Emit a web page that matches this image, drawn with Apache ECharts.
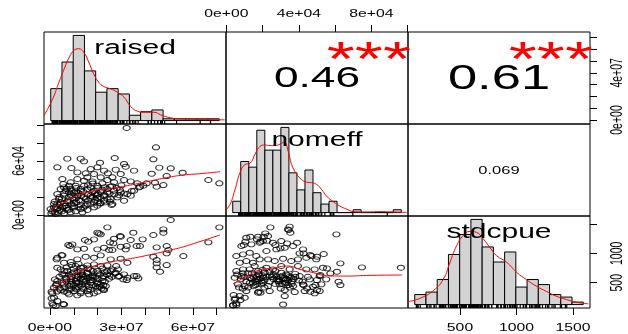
<!DOCTYPE html>
<html><head><meta charset="utf-8">
<script src="https://cdn.jsdelivr.net/npm/echarts@6/dist/echarts.min.js"></script>
<style>html,body{margin:0;padding:0;background:#fff}#c{width:628px;height:334px}</style>
</head><body><div id="c"></div>
<script>
// units: raised in millions, nomeff in thousands, stdcpue raw
const variables = ['raised', 'nomeff', 'stdcpue'];
const corrLabels = ['0.46', '0.61', '0.069'];   // (raised,nomeff) (raised,stdcpue) (nomeff,stdcpue)
const corrStars = ['***', '***', ''];

const raisedBreaks = [0,5,10,15,20,25,30,35,40,45,50,55,60,65,70,75];
const raisedCounts = [18,33,48,28,16,18,15,3,5,6,1,1,1,1,1];
const nomeffBreaks = [0,5,10,15,20,25,30,35,40,45,50,55,60,65,70,75,80,85,90,95,100,105];
const nomeffCounts = [4,18,16,29,22,22,30,14,8,15,7,3,4,0,0,1,0,0,0,0,1];
const stdcpueBreaks = [100,200,300,400,500,600,700,800,900,1000,1100,1200,1300,1400,1500,1600];
const stdcpueCounts = [4,5,10,20,28,34,23,17,21,7,10,8,4,3,1];

const raisedDensity = [[-3.0,2.8],[-1.1,7.2],[1.2,13.2],[3.4,20.7],[5.7,28.2],[7.9,34.8],[10.1,39.2],[12.4,40.5],[14.6,38.6],[16.9,33.0],[19.1,26.4],[21.3,21.7],[23.6,19.2],[26.6,17.9],[29.6,16.0],[32.6,13.2],[35.6,7.9],[38.6,5.3],[41.5,4.7],[46.0,4.7],[49.0,3.2],[53.5,1.5],[59.5,0.8],[68.4,0.6],[77.4,0.4]];
const nomeffDensity = [[-4.8,0.6],[-1.7,2.9],[1.4,8.1],[4.5,14.0],[7.6,16.9],[10.8,17.4],[13.9,20.6],[17.0,23.3],[20.1,23.8],[23.2,23.6],[26.3,23.6],[29.4,24.1],[31.9,24.8],[34.6,21.5],[36.7,16.9],[39.8,13.6],[43.0,11.6],[46.1,10.7],[49.2,10.5],[52.3,9.9],[55.4,8.1],[58.5,5.8],[62.7,3.8],[66.8,2.3],[71.0,1.2],[75.1,0.35],[83.5,0.23],[91.7,0.35],[100,0.23],[108.4,0.05]];
const stdcpueDensity = [[43,1.2],[147,2.5],[266,5.6],[355,10.2],[414,16.9],[473,23.5],[532,27.6],[592,29.2],[651,28.8],[710,26.2],[769,22.8],[829,19.5],[918,16.9],[1007,12.9],[1096,9.9],[1185,7.3],[1274,5.2],[1363,3.3],[1452,2.0],[1541,0.9],[1645,0.3]];

const raisedVsNomeff = [[32.2,96.7],[7.3,62.6],[12.9,62.6],[27.2,63.3],[3.1,53.0],[9.0,52.2],[14.3,59.6],[17.1,51.1],[22.7,49.3],[27.6,50.4],[31.1,56.7],[35.3,49.3],[31.8,53.7],[11.5,47.4],[15.0,46.3],[18.5,45.6],[21.3,41.9],[26.2,41.9],[29.7,45.6],[5.6,34.4],[8.7,36.3],[11.5,40.0],[14.3,38.1],[17.8,37.4],[22.0,35.2],[24.1,38.9],[26.9,36.3],[31.1,38.9],[33.9,37.4],[36.7,35.2],[5.9,30.7],[8.7,28.9],[10.8,32.6],[12.9,27.0],[15.7,28.9],[18.5,27.0],[21.3,25.2],[24.1,28.9],[26.9,27.0],[29.7,25.2],[32.5,23.3],[35.3,27.0],[37.4,30.7],[3.1,23.3],[5.9,21.5],[8.0,25.2],[11.5,21.5],[14.3,19.6],[17.1,21.5],[19.9,18.9],[22.7,21.5],[25.5,17.8],[28.3,19.6],[31.1,15.9],[33.9,21.5],[1.7,12.2],[4.5,14.1],[7.3,15.2],[10.1,13.0],[12.9,15.9],[15.7,12.2],[18.5,14.1],[21.3,13.0],[26.2,12.2],[22.7,15.9],[1.0,4.1],[3.1,6.7],[5.2,8.5],[7.3,5.6],[10.1,8.5],[12.9,6.7],[15.7,5.6],[5.9,1.9],[2.4,1.1],[8.7,3.0],[13.6,3.0],[18.5,8.5],[0.6,1.9],[4.5,28.9],[6.6,27.0],[10.1,25.2],[14.3,32.6],[17.1,30.7],[19.9,32.6],[9.4,18.9],[12.2,16.7],[3.8,17.8],[6.6,10.4],[10.8,4.1],[15.0,10.4],[19.9,10.4],[24.1,17.8],[17.8,25.2],[1.7,8.5],[0.3,6.7],[8.0,32.6],[5.2,40.0],[15.7,41.9],[24.3,46.3],[19.9,53.0],[44.5,75.2],[43.4,61.9],[45.9,52.6],[50.7,51.9],[55.7,47.0],[42.7,45.9],[49.0,43.3],[44.1,35.9],[47.6,33.3],[66.5,38.9],[71.1,35.2],[39.2,32.6],[21.0,58.1],[25.2,31.5],[29.4,27.8],[34.3,26.7],[37.8,31.5],[40.6,35.2],[44.8,31.5],[19.6,22.2],[25.2,14.8],[25.9,11.1],[21.0,13.0],[3,12],[5,18],[8,20],[10,17],[12,24],[14,26],[16,23],[18,20],[20,23],[22,28],[24,25],[6,10],[9,12],[11,14],[13,11],[16,16],[19,17],[4,5],[7,8],[2,3],[2.5,9],[4,11],[6,13],[8,15],[9,22],[11,19],[13,21],[15,18],[17,19],[19,24],[21,20],[23,22],[25,24],[27,23],[29,22],[31,24],[4,20],[6,24],[7,29],[9,27],[11,30],[13,29],[16,33],[18,35],[20,30],[23,31],[26,32],[28,30],[30,33],[2,15],[3.5,2.5],[5,4],[8,6],[10,10],[12,9],[14,8],[17,12],[20,15],[23,14],[11,26]];
const raisedNomeffSmooth = [[0.3,4.1],[3,10],[5.9,14],[11.5,21.5],[18.5,27],[25.5,29.5],[32.5,32.6],[39.5,36.3],[49,41.5],[56,44.4],[63,45.9],[71.4,48.1]];

const raisedVsStdcpue = [[50.7,1566],[24.1,1441],[47.6,1407],[47.6,1350],[71.1,1441],[20.6,1339],[29.4,1294],[35.0,1350],[38.9,1237],[43.4,1311],[14.7,1226],[16.1,1198],[66.5,1186],[7.7,1141],[8.4,1124],[25.2,1186],[26.6,1169],[32.2,1124],[36.4,1124],[37.8,1124],[44.8,1101],[49.0,1124],[49.0,999],[56.0,954],[4.9,971],[2.8,897],[43.4,942],[44.8,886],[49.0,800],[44.8,761],[46.2,687],[36.4,613],[37.1,574],[2.1,557],[2.5,460],[16.1,387],[21.0,432],[22.4,387],[0.7,347],[0.7,234],[1.4,120],[5.6,137],[27.3,659],[28.7,602],[30.8,557],[32.2,545],[22.4,460],[21.7,404],[44.8,829],[49.7,1056],[19.9,1351],[21.3,1322],[18.5,1237],[9.4,1152],[14.3,1078],[11.5,1067],[3.1,925],[5.2,965],[19.9,1067],[22.7,1095],[24.8,1056],[26.2,1056],[29.7,1112],[31.8,1067],[33.9,1226],[26.9,1248],[29.7,1282],[11.5,897],[15.0,942],[18.5,925],[21.3,965],[25.5,897],[29.7,908],[32.5,840],[5.9,840],[8.7,852],[10.8,784],[12.9,755],[15.7,795],[18.5,812],[21.3,784],[24.1,795],[3.1,755],[4.5,727],[26.2,727],[27.6,670],[29.1,613],[31.1,642],[32.5,585],[35.3,613],[7.3,698],[9.4,659],[11.5,681],[13.6,642],[15.7,670],[17.8,625],[19.9,659],[22.7,613],[24.8,568],[6.6,585],[8.7,557],[10.8,528],[12.9,568],[15.0,528],[17.1,545],[19.9,500],[22.0,528],[5.9,472],[8.0,443],[10.8,415],[13.6,472],[16.4,432],[19.2,443],[4.5,375],[7.3,330],[10.1,358],[12.9,319],[15.7,358],[18.5,319],[21.3,472],[19.9,415],[23.4,443],[22.7,375],[1.7,415],[3.1,528],[5.2,642],[8.0,302],[11.5,285],[16.4,302],[1.0,319],[1.7,245],[1.0,149],[5.9,131],[3.1,188],[2.4,103],[27.8,784],[28.5,727],[25.5,698],[9,600],[11,620],[14,600],[16,580],[12,500],[14,510],[18,590],[20,560],[7,520],[9,480],[6,700],[10,740],[13,700],[17,720],[20,700],[23,680],[24,640],[26,600],[12,430],[14,400],[17,380],[20,350],[9,400],[6,420],[3,480],[4,600],[5,500],[7,560],[8,640],[10,680],[11,560],[12,600],[13,640],[14,560],[15,610],[16,650],[17,600],[18,540],[19,600],[21,640],[22,580],[23,520],[25,620],[9,520],[10,460],[11,500],[13,450],[15,470],[17,500],[18,460],[20,480],[6,640],[7,760],[9,800],[12,820],[14,760],[16,740],[18,700],[22,740],[24,700],[4,400],[6,350],[8,380],[11,390],[13,350],[3,350]];
const raisedStdcpueSmooth = [[0.3,358],[3,450],[5.9,528],[11.5,670],[18.5,784],[25.5,852],[32.5,900],[39.5,954],[49,1040],[56,1110],[63,1200],[71.4,1311]];

const nomeffVsStdcpue = [[24.3,1441],[34.9,1453],[34.4,1396],[35.3,1350],[60.7,1322],[21.5,1339],[20.6,1282],[13.2,1282],[10.5,1197],[9.6,1141],[16.9,1237],[18.8,1197],[22.4,1214],[27.0,1141],[29.8,1084],[33.5,1169],[39.0,1180],[40.4,999],[42.6,999],[46.3,971],[50.0,942],[53.7,988],[62.9,829],[74.8,761],[96.3,755],[55.5,744],[61.0,687],[57.4,659],[51.8,630],[50.0,545],[49.1,460],[50.0,375],[62.9,460],[61.9,517],[42.6,460],[44.5,404],[46.3,347],[4.0,290],[5.0,234],[7.7,205],[3.7,120],[5.5,120],[31.3,131],[17.8,347],[18.8,330],[34.0,1407],[11.0,1265],[17.5,1282],[23.0,1294],[20.2,1209],[8.3,1124],[13.8,1152],[18.4,1180],[25.7,1180],[30.3,1209],[5.5,954],[9.2,982],[12.9,1010],[16.5,954],[22.1,1039],[27.6,1067],[32.2,1095],[36.8,1124],[42.3,1067],[46.9,954],[49.6,897],[7.4,840],[11.0,869],[14.7,840],[18.4,897],[23.0,897],[26.7,869],[31.3,908],[35.8,869],[39.5,897],[44.1,925],[5.5,698],[9.2,727],[12.9,727],[17.5,698],[22.1,755],[25.7,727],[30.3,784],[34.9,727],[39.5,784],[44.1,727],[48.7,727],[53.3,755],[4.6,585],[8.3,613],[12.9,585],[16.5,557],[20.2,585],[23.9,625],[27.6,602],[31.3,557],[35.8,585],[40.4,613],[46.0,557],[51.5,613],[55.1,557],[6.4,472],[10.1,443],[14.7,500],[19.3,472],[23.0,443],[29.4,472],[33.1,500],[36.8,443],[42.3,472],[47.8,432],[52.4,472],[11.0,358],[17.5,330],[23.9,358],[32.2,375],[37.7,341],[43.2,358],[48.7,319],[51.5,358],[7.4,273],[10.1,245],[4.6,216],[5.5,149],[3.7,114],[32.2,273],[17.5,642],[19.3,528],[30.3,670],[34.0,625],[32.2,500],[21.1,670],[28.5,528],[15.6,784],[15,600],[18,560],[20,620],[28,560],[30,600],[33,560],[36,520],[14,660],[26,640],[38,650],[24,520],[27,480],[16,460],[21,420],[35,420],[30,400],[14,560],[16,520],[17,600],[18,640],[19,580],[21,540],[22,600],[13,500],[15,440],[17,480],[20,500],[29,560],[31,620],[32,580],[33,640],[34,540],[35,600],[37,560],[29,520],[31,480],[34,460],[36,480],[6,640],[8,560],[10,600],[11,520],[9,660],[12,660],[7,420],[9,400],[12,420],[25,600],[26,560],[24,680],[27,700],[38,600],[40,540],[42,520],[45,600],[20,720]];
const nomeffStdcpueSmooth = [[3.7,480],[11.2,608],[18.6,720],[25.9,750],[33.3,784],[40.6,727],[48,670],[55.3,619],[66.5,613],[79.4,625],[96.9,630]];

// axis ticks and labelled ticks
const raisedTicks = [0,10,20,30,40,50,60,70];
const raisedBottomLabels = [0,30,60];
const raisedRightLabels = [0,40];
const nomeffTicks = [0,20,40,60,80,100];
const nomeffTopLabels = [0,40,80];
const nomeffLeftLabels = [0,60];
const stdcpueTicks = [500,1000,1500];
const stdcpueBottomLabels = [500,1000,1500];
const stdcpueRightLabels = [500,1000];

// axis ranges of the panels
const raisedColRange = [-2.5, 73.9], raisedRowRange = [-3.4, 74.6];
const nomeffColRange = [-0.2, 100.2], nomeffRowRange = [-1.1, 101.1];
const stdcpueColRange = [40, 1650], stdcpueRowRange = [70, 1634];

// ---------- layout ----------
const L = 44, T = 32, W = 182, H = 92;
const FONT = '"Liberation Sans", Arial, sans-serif';
const STRETCH = 1.5;

const grids = [];
for (let r = 0; r < 3; r++) for (let c = 0; c < 3; c++) {
  grids.push({left: L + W * c, top: T + H * r, width: W, height: H, show: true,
    borderColor: '#000', borderWidth: 1, backgroundColor: 'transparent', containLabel: false});
}
function ax(gridIndex, range, extra) {
  return Object.assign({type: 'value', gridIndex, min: range[0], max: range[1],
    axisLine: {show: false, onZero: false}, axisTick: {show: false}, axisLabel: {show: false},
    splitLine: {show: false}}, extra || {});
}
function tk(vals) { return {show: true, length: 7, customValues: vals, lineStyle: {color: '#000', width: 1}}; }

function histExt(b) { const d = (b[b.length - 1] - b[0]) * 0.04; return [b[0] - d, b[b.length - 1] + d]; }
function cntExt(c) { const m = Math.max.apply(null, c); return [-0.04 * m, 1.04 * m]; }

const xAxis = [
  ax(0, histExt(raisedBreaks)),
  ax(1, nomeffColRange, {position: 'top', axisTick: tk(nomeffTicks)}),
  ax(2, stdcpueColRange),
  ax(3, raisedColRange),
  ax(4, histExt(nomeffBreaks)),
  ax(5, stdcpueColRange),
  ax(6, raisedColRange, {position: 'bottom', axisTick: tk(raisedTicks)}),
  ax(7, nomeffColRange),
  ax(8, histExt(stdcpueBreaks), {position: 'top'}),
  ax(8, stdcpueColRange, {position: 'bottom', axisTick: tk(stdcpueTicks)})
];
const yAxis = [
  ax(0, cntExt(raisedCounts)),
  ax(1, raisedRowRange),
  ax(2, raisedRowRange, {position: 'right', axisTick: tk(raisedTicks)}),
  ax(3, nomeffRowRange, {position: 'left', axisTick: tk(nomeffTicks)}),
  ax(4, cntExt(nomeffCounts)),
  ax(5, nomeffRowRange),
  ax(6, stdcpueRowRange),
  ax(7, stdcpueRowRange),
  ax(8, cntExt(stdcpueCounts), {position: 'left'}),
  ax(8, stdcpueRowRange, {position: 'right', axisTick: tk(stdcpueTicks)})
];

function histSeries(breaks, counts, ai) {
  return {type: 'custom', xAxisIndex: ai, yAxisIndex: ai, silent: true, clip: true,
    data: counts.map((c, i) => [breaks[i], breaks[i + 1], c]),
    renderItem: (params, api) => {
      const a = api.coord([api.value(0), 0]);
      const b = api.coord([api.value(1), api.value(2)]);
      return {type: 'rect', shape: {x: a[0], y: b[1], width: b[0] - a[0], height: a[1] - b[1]},
        style: {fill: '#d3d3d3', stroke: '#000', lineWidth: 1}};
    }};
}
function rugSeries(values, ai) {
  return {type: 'custom', xAxisIndex: ai, yAxisIndex: ai, silent: true,
    data: values.map(v => [v, 0]),
    renderItem: (params, api) => {
      const p = api.coord([api.value(0), 0]);
      const cs = params.coordSys; const yb = cs.y + cs.height;
      return {type: 'line', shape: {x1: p[0], y1: yb, x2: p[0], y2: yb - 0.035 * cs.height},
        style: {stroke: '#000', lineWidth: 1.2}};
    }};
}
function lineSeries(data, ai) {
  return {type: 'line', xAxisIndex: ai, yAxisIndex: ai, data, showSymbol: false, symbol: 'none',
    smooth: true, clip: true, silent: true, lineStyle: {color: '#ff0000', width: 1}, z: 5};
}
function scatterSeries(data, ai) {
  return {type: 'scatter', xAxisIndex: ai, yAxisIndex: ai, data, symbol: 'circle', symbolSize: [7, 5],
    silent: true, clip: true, itemStyle: {color: 'rgba(0,0,0,0)', borderColor: '#000', borderWidth: 1.1}};
}

const series = [
  histSeries(raisedBreaks, raisedCounts, 0), lineSeries(raisedDensity, 0),
  rugSeries(raisedVsStdcpue.map(d => d[0]), 0),
  histSeries(nomeffBreaks, nomeffCounts, 4), lineSeries(nomeffDensity, 4),
  rugSeries(nomeffVsStdcpue.map(d => d[0]), 4),
  histSeries(stdcpueBreaks, stdcpueCounts, 8), lineSeries(stdcpueDensity, 8),
  rugSeries(nomeffVsStdcpue.map(d => d[1]), 8),
  scatterSeries(raisedVsNomeff, 3), lineSeries(raisedNomeffSmooth, 3),
  scatterSeries(raisedVsStdcpue, 6), lineSeries(raisedStdcpueSmooth, 6),
  scatterSeries(nomeffVsStdcpue, 7), lineSeries(nomeffStdcpueSmooth, 7)
];

const chart = echarts.init(document.getElementById('c'), null, {renderer: 'canvas'});
chart.setOption({animation: false, backgroundColor: '#fff', grid: grids, xAxis, yAxis, series});

// ---------- texts ----------
function sci(v) {
  if (v === 0) return '0e+00';
  const e = Math.floor(Math.log10(Math.abs(v)) + 1e-9);
  const m = Math.round(v / Math.pow(10, e));
  return m + 'e+' + String(e).padStart(2, '0');
}
const els = [];
function txt(text, x, y, size, color, rot) {
  const el = {type: 'text', x, y, silent: true, z: 100,
    style: {text, font: size + 'px ' + FONT, fill: color || '#000',
      align: 'center', verticalAlign: 'middle', textAlign: 'center', textVerticalAlign: 'middle'}};
  if (rot) { el.rotation = Math.PI / 2; el.scaleY = STRETCH; } else { el.scaleX = STRETCH; }
  els.push(el);
}
const TS = 10.5;
nomeffTopLabels.forEach(v => txt(sci(v * 1e3), chart.convertToPixel({xAxisIndex: 1}, v), 14, TS));
raisedBottomLabels.forEach(v => txt(sci(v * 1e6), chart.convertToPixel({xAxisIndex: 6}, v), 328, TS));
stdcpueBottomLabels.forEach(v => txt(String(v), chart.convertToPixel({xAxisIndex: 9}, v), 328, TS));
raisedRightLabels.forEach(v => txt(sci(v * 1e6), 618, chart.convertToPixel({yAxisIndex: 2}, v), TS, '#000', true));
nomeffLeftLabels.forEach(v => txt(sci(v * 1e3), 20, chart.convertToPixel({yAxisIndex: 3}, v), TS, '#000', true));
stdcpueRightLabels.forEach(v => txt(String(v), 618, chart.convertToPixel({yAxisIndex: 9}, v), TS, '#000', true));

variables.forEach((name, i) => txt(name, L + W * (i + 0.5), T + H * i + 16, 20));
const pairs = [[0, 1], [0, 2], [1, 2]];
const corrSizes = [29.5, 35, 11];
pairs.forEach((p, k) => {
  const cx = L + W * (p[1] + 0.5), cy = T + H * (p[0] + 0.5);
  txt(corrLabels[k], cx, cy + 1, corrSizes[k]);
  if (corrStars[k]) txt(corrStars[k], L + W * (p[1] + 0.785), T + H * p[0] + 30, 48, '#ff0000');
});
chart.setOption({graphic: {elements: els}});
</script></body></html>
